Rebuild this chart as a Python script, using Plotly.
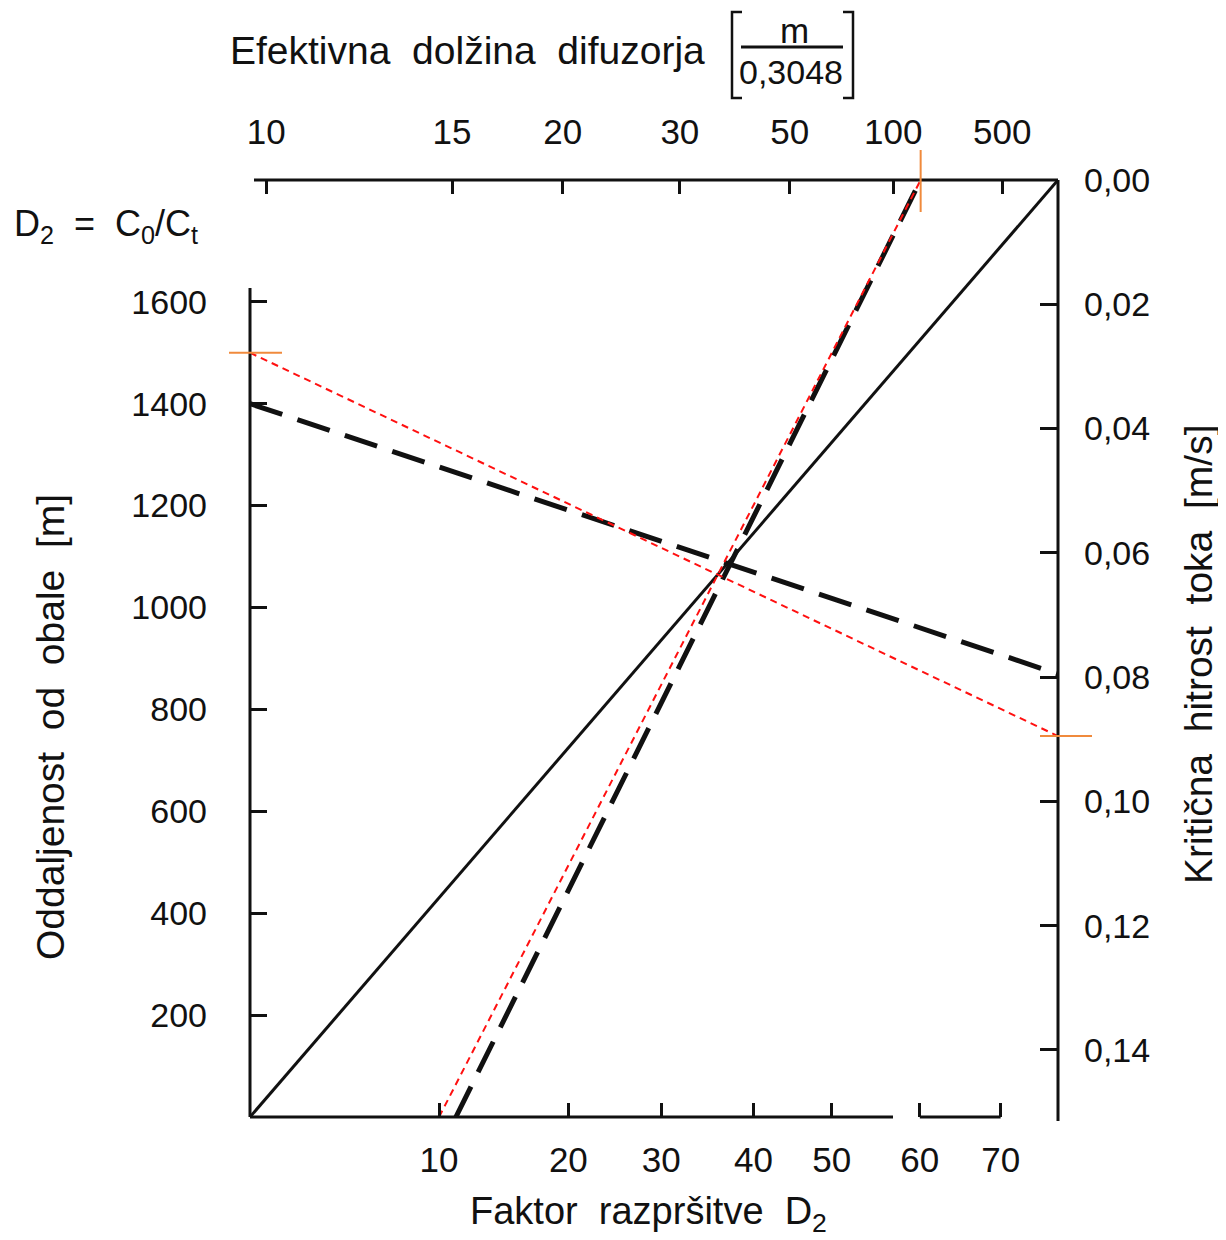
import numpy as np
import plotly.graph_objects as go

# ---------------- data: nomogram scales ----------------
dist_ticks = [200, 400, 600, 800, 1000, 1200, 1400, 1600]          # left  [m]
vel_ticks = [0.00, 0.02, 0.04, 0.06, 0.08, 0.10, 0.12, 0.14]        # right [m/s]
vel_labels = ["0,00", "0,02", "0,04", "0,06", "0,08", "0,10", "0,12", "0,14"]
d2_ticks = [10, 20, 30, 40, 50, 60, 70]                             # bottom (non-linear scale)
d2_scale = [0.234, 0.394, 0.509, 0.623, 0.720, 0.829, 0.929]        # scale graduation along frame
len_ticks = [10, 15, 20, 30, 50, 100, 500]                          # top (non-linear scale)
len_scale = [0.020, 0.250, 0.387, 0.532, 0.668, 0.796, 0.931]

# frame extent of the two vertical scales
DIST_MAX = 1839.0     # m at top edge of frame
VEL_MAX = 0.1508      # m/s at bottom edge of frame
DIST_AXIS_END = 1627  # where drawn left scale line ends

# key lines of the nomogram
solid_dist = 0        # starts at bottom-left corner
solid_vel = 0.00      # ends at top-right corner
dashA_dist, dashA_vel = 1400, 0.0795
redA_dist, redA_vel = 1500, 0.0895
dashB_d2, dashB_len = 11.3, 150
redB_d2, redB_len = 10, 150


def u_d2(v):
    return float(np.interp(v, d2_ticks, d2_scale))


def u_len(v):
    return float(np.interp(np.log10(v), np.log10(len_ticks), len_scale))


def m_from_vel(v):
    return DIST_MAX * (1 - v / VEL_MAX)


# ---------------- layout geometry (page pixels) ----------------
W_FIG, H_FIG = 1226, 1240
OFF = 8                      # page body margin
L, R, T, B = 250, 1058, 180, 1117
PW, PH = R - L, B - T


def px(xp):
    return (xp - L) / PW


def py(yp):
    return (B - yp) / PH


FONT = "Liberation Sans, Arial, sans-serif"
INK = "#111111"
ORANGE = "#F08A3C"

fig = go.Figure()

# solid line
fig.add_trace(go.Scatter(x=[0, 1], y=[solid_dist, m_from_vel(solid_vel)], mode="lines",
                         line=dict(color=INK, width=3), hoverinfo="skip"))
# black dashed lines
fig.add_trace(go.Scatter(x=[0, 1], y=[dashA_dist, m_from_vel(dashA_vel)], mode="lines",
                         line=dict(color=INK, width=5, dash="34px,16px"), hoverinfo="skip"))
fig.add_trace(go.Scatter(x=[u_d2(dashB_d2), u_len(dashB_len)], y=[0, DIST_MAX], mode="lines",
                         line=dict(color=INK, width=5, dash="34px,16px"), hoverinfo="skip"))
# red dotted lines
fig.add_trace(go.Scatter(x=[0, 1], y=[redA_dist, m_from_vel(redA_vel)], mode="lines",
                         line=dict(color="#FF1010", width=2, dash="7px,5px"), hoverinfo="skip"))
fig.add_trace(go.Scatter(x=[u_d2(redB_d2), u_len(redB_len)], y=[0, DIST_MAX], mode="lines",
                         line=dict(color="#FF1010", width=2, dash="7px,5px"), hoverinfo="skip"))
# invisible traces to activate secondary axes
fig.add_trace(go.Scatter(x=[0], y=[0], xaxis="x2", yaxis="y", mode="markers",
                         marker=dict(opacity=0), hoverinfo="skip"))
fig.add_trace(go.Scatter(x=[0], y=[0], xaxis="x", yaxis="y2", mode="markers",
                         marker=dict(opacity=0), hoverinfo="skip"))

tick_common = dict(ticks="inside", tickwidth=3, tickcolor=INK, showline=False, showgrid=False,
                   zeroline=False)

fig.update_layout(
    width=W_FIG, height=H_FIG,
    margin=dict(l=L - OFF, r=W_FIG - (R - OFF), t=T - OFF, b=H_FIG - (B - OFF)),
    paper_bgcolor="white", plot_bgcolor="white",
    showlegend=False,
    font=dict(family=FONT, color=INK, size=32),
    xaxis=dict(range=[0, 1], tickvals=d2_scale, ticktext=[str(v) for v in d2_ticks],
               ticklen=14, ticklabelstandoff=19, tickfont=dict(family=FONT, size=35, color=INK),
               **tick_common),
    xaxis2=dict(range=[0, 1], overlaying="x", side="top", anchor="y",
                tickvals=len_scale, ticktext=[str(v) for v in len_ticks],
                ticklen=14, ticklabelstandoff=28, tickfont=dict(family=FONT, size=35, color=INK),
                **tick_common),
    yaxis=dict(range=[0, DIST_MAX], tickvals=dist_ticks, ticktext=[str(v) for v in dist_ticks],
               ticklen=17, ticklabelstandoff=42, tickfont=dict(family=FONT, size=34, color=INK),
               **tick_common),
    yaxis2=dict(range=[VEL_MAX, 0], overlaying="y", side="right", anchor="x",
                tickvals=vel_ticks, ticktext=vel_labels,
                ticklen=18, ticklabelstandoff=25, tickfont=dict(family=FONT, size=34, color=INK),
                **tick_common),
)

shapes = []
line3 = dict(color=INK, width=3)
# axis lines
shapes.append(dict(type="line", xref="paper", yref="paper", x0=0, x1=0, y0=0,
                   y1=DIST_AXIS_END / DIST_MAX, line=line3))
shapes.append(dict(type="line", xref="paper", yref="paper", x0=px(254), x1=1, y0=1, y1=1, line=line3))
shapes.append(dict(type="line", xref="paper", yref="paper", x0=1, x1=1, y0=py(1121), y1=1, line=line3))
shapes.append(dict(type="line", xref="paper", yref="paper", x0=0, x1=px(893), y0=0, y1=0, line=line3))
shapes.append(dict(type="line", xref="paper", yref="paper", x0=d2_scale[5], x1=d2_scale[6], y0=0, y1=0,
                   line=line3))
# orange reading marks
shapes.append(dict(type="line", xref="paper", yref="paper", x0=px(229), x1=px(282),
                   y0=redA_dist / DIST_MAX, y1=redA_dist / DIST_MAX, line=dict(color=ORANGE, width=2)))
shapes.append(dict(type="line", xref="paper", yref="paper", x0=px(1040), x1=px(1092),
                   y0=m_from_vel(redA_vel) / DIST_MAX, y1=m_from_vel(redA_vel) / DIST_MAX,
                   line=dict(color=ORANGE, width=2)))
shapes.append(dict(type="line", xref="paper", yref="paper", x0=u_len(redB_len), x1=u_len(redB_len),
                   y0=py(212), y1=py(150), line=dict(color=ORANGE, width=2)))
# fraction bar and brackets of the unit
shapes.append(dict(type="line", xref="paper", yref="paper", x0=px(741), x1=px(843), y0=py(47), y1=py(47),
                   line=dict(color=INK, width=3)))
for xa, xb in [(742, 732), (843, 853)]:
    shapes.append(dict(type="path", xref="paper", yref="paper",
                       path=f"M {px(xa)},{py(12)} L {px(xb)},{py(12)} L {px(xb)},{py(98)} L {px(xa)},{py(98)}",
                       line=dict(color=INK, width=2.5)))
fig.update_layout(shapes=shapes)

ann = []


def add_text(text, x, y, size, xanchor="center", angle=0):
    ann.append(dict(text=text, x=px(x), y=py(y), xref="paper", yref="paper", showarrow=False,
                    xanchor=xanchor, yanchor="middle", textangle=angle,
                    font=dict(family=FONT, size=size, color=INK)))


add_text("Efektivna  dolžina  difuzorja", 228, 50, 39, xanchor="left")
add_text("m", 794, 30, 35)
add_text("0,3048", 791, 72, 34)
add_text("D<sub>2</sub>  =  C<sub>0</sub>/C<sub>t</sub>", 12, 226, 36, xanchor="left")
add_text("Oddaljenost  od  obale  [m]", 50, 727, 39, angle=-90)
add_text("Kritična  hitrost  toka  [m/s]", 1198, 655, 39, angle=-90)
add_text("Faktor  razpršitve  D<sub>2</sub>", 648, 1214, 38)
fig.update_layout(annotations=ann)

fig.write_html("out.html")
